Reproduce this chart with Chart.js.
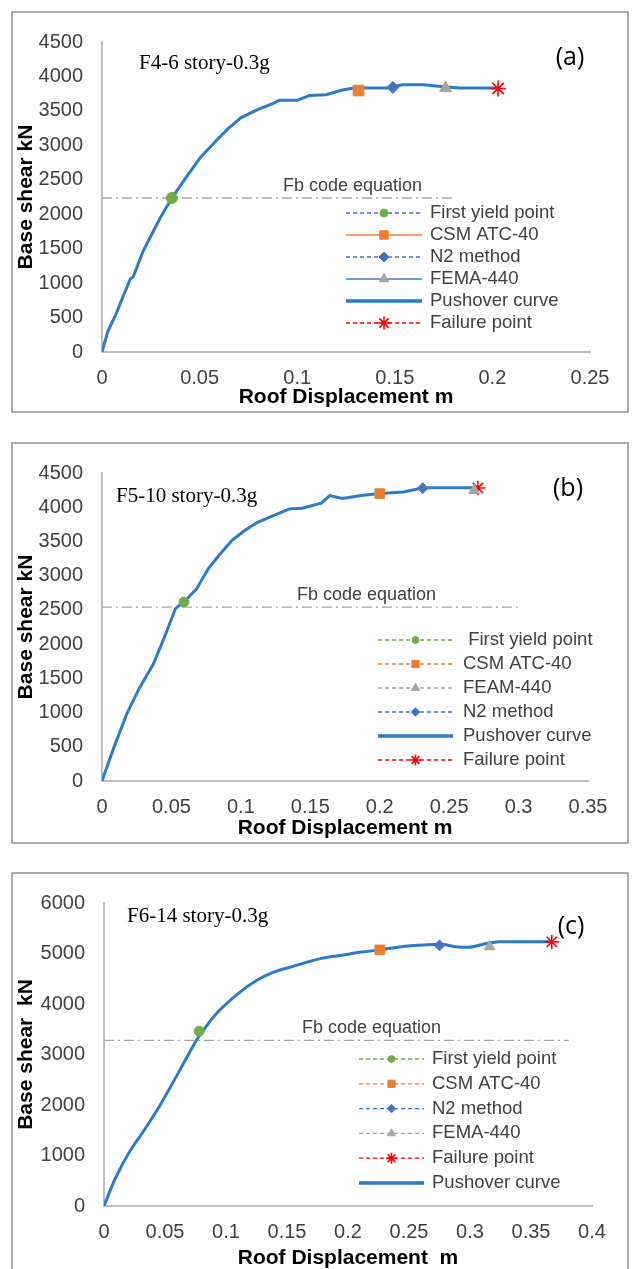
<!DOCTYPE html>
<html>
<head>
<meta charset="utf-8">
<script src="https://cdn.jsdelivr.net/npm/chart.js@4.4.1/dist/chart.umd.min.js"></script>
<style>
  body { margin: 0; width: 632px; height: 1269px; background: #fff; position: relative; overflow: hidden; }
  .box { position: absolute; left: 11px; width: 618px; height: 402px; border: 2px solid #ababab; box-sizing: border-box; }
  canvas { position: absolute; left: 0; }
  .sub { position: absolute; font-family: "Liberation Serif", "Times New Roman", serif; font-size: 21px; line-height: 24px; color: #000; white-space: pre; }
  .tag { position: absolute; font-family: "Open Sans", sans-serif; font-size: 25px; line-height: 30px; color: #000; transform: translate(-50%, -50%); }
</style>
</head>
<body>

<div class="box" style="top:11px"></div>
<div class="box" style="top:442px"></div>
<div class="box" style="top:872px; height:420px"></div>

<canvas id="chartA" width="632" height="402" style="top:11px"></canvas>
<canvas id="chartB" width="632" height="402" style="top:442px"></canvas>
<canvas id="chartC" width="632" height="402" style="top:872px"></canvas>

<div class="sub" style="left:139px; top:50px">F4-6 story-0.3g</div>
<div class="sub" style="left:116px; top:483px">F5-10 story-0.3g</div>
<div class="sub" style="left:127px; top:903px">F6-14 story-0.3g</div>
<div class="tag" style="left:570px; top:55px">(a)</div>
<div class="tag" style="left:568px; top:486px">(b)</div>
<div class="tag" style="left:571px; top:924px">(c)</div>

<script>
// ---------------- (a) F4-6 story-0.3g ----------------
const dispA  = [0, 0.003, 0.007, 0.011, 0.0145, 0.016, 0.021, 0.0295, 0.0358, 0.042, 0.0503, 0.0586, 0.0649, 0.0711,
                0.0794, 0.0877, 0.0909, 0.1002, 0.1064, 0.1148, 0.1231, 0.1293, 0.146, 0.154, 0.1646, 0.175, 0.1834, 0.2025];
const shearA = [0, 300, 540, 820, 1060, 1090, 1460, 1930, 2235, 2490, 2820, 3070, 3250, 3400,
                3515, 3610, 3655, 3655, 3725, 3734, 3804, 3832, 3832, 3878, 3878, 3850, 3832, 3832];
const pointNamesA = ["First yield point", "CSM ATC-40", "N2 method", "FEMA-440", "Failure point"];
const pointDispA  = [0.0358, 0.1314, 0.149, 0.176, 0.2029];
const pointShearA = [2235, 3795, 3841, 3830, 3825];
const legendOrderA = ["First yield point", "CSM ATC-40", "N2 method", "FEMA-440", "Pushover curve", "Failure point"];
const fbShearA = 2235;
const fbEndA = 0.18;
const xTicksA = [0, 0.05, 0.1, 0.15, 0.2, 0.25];
const yTicksA = [0, 500, 1000, 1500, 2000, 2500, 3000, 3500, 4000, 4500];

// ---------------- (b) F5-10 story-0.3g ----------------
const dispB  = [0, 0.0079, 0.018, 0.027, 0.037, 0.045, 0.053, 0.059, 0.068, 0.0766, 0.084, 0.094, 0.103, 0.112,
                0.123, 0.135, 0.144, 0.158, 0.164, 0.173, 0.188, 0.2, 0.217, 0.228, 0.234, 0.269];
const shearB = [0, 452, 987, 1360, 1709, 2104, 2523, 2616, 2803, 3105, 3291, 3524, 3664, 3780,
                3873, 3976, 3985, 4060, 4171, 4129, 4176, 4199, 4222, 4269, 4283, 4283];
const pointNamesB = [" First yield point", "CSM ATC-40", "FEAM-440", "N2 method", "Failure point"];
const pointDispB  = [0.059, 0.2, 0.268, 0.231, 0.2707];
const pointShearB = [2616, 4199, 4246, 4278, 4281];
const legendOrderB = [" First yield point", "CSM ATC-40", "FEAM-440", "N2 method", "Pushover curve", "Failure point"];
const fbShearB = 2540;
const fbEndB = 0.301;
const xTicksB = [0, 0.05, 0.1, 0.15, 0.2, 0.25, 0.3, 0.35];
const yTicksB = [0, 500, 1000, 1500, 2000, 2500, 3000, 3500, 4000, 4500];

// ---------------- (c) F6-14 story-0.3g ----------------
const dispC  = [0, 0.0093, 0.021, 0.0325, 0.0457, 0.059, 0.069, 0.0755, 0.079, 0.092, 0.112, 0.125, 0.138, 0.155,
                0.178, 0.195, 0.211, 0.226, 0.244, 0.261, 0.276, 0.288, 0.299, 0.311, 0.324, 0.337, 0.367];
const shearC = [0, 545, 1078, 1486, 1987, 2552, 2991, 3273, 3398, 3806, 4245, 4464, 4621, 4746,
                4903, 4966, 5028, 5072, 5135, 5166, 5185, 5135, 5122, 5185, 5235, 5235, 5235];
const pointNamesC = ["First yield point", "CSM ATC-40", "N2 method", "FEMA-440", "Failure point"];
const pointDispC  = [0.078, 0.226, 0.275, 0.316, 0.367];
const pointShearC = [3461, 5072, 5160, 5135, 5230];
const legendOrderC = ["First yield point", "CSM ATC-40", "N2 method", "FEMA-440", "Failure point", "Pushover curve"];
const fbShearC = 3280;
const fbEndC = 0.381;
const xTicksC = [0, 0.05, 0.1, 0.15, 0.2, 0.25, 0.3, 0.35, 0.4];
const yTicksC = [0, 1000, 2000, 3000, 4000, 5000, 6000];

// ---------------- styles ----------------
const CURVE = "#2b7bcb";
const TEXT = "#404040";
const SANS = '"Liberation Sans", Arial, sans-serif';

const DASH = [4, 3];

// which marker each legend name uses
function kindOf(name) {
    const n = name.trim();
    if (n.startsWith("First")) return "yield";
    if (n.startsWith("CSM")) return "csm";
    if (n.startsWith("N2")) return "n2";
    if (n.startsWith("FE")) return "fema";
    return "failure";
}

const LOOKS = {
    yield:   { style: "circle",   fill: "#70AD47", line: "#70AD47", r: 5.5, lr: 4 },
    csm:     { style: "rect",     fill: "#ED7D31", line: "#ED7D31", r: 7.5, lr: 6 },
    n2:      { style: "rectRot",  fill: "#4472C4", line: "#4472C4", r: 6,   lr: 5 },
    fema:    { style: "triangle", fill: "#A5A5A5", line: "#A5A5A5", r: 7,   lr: 5.5 },
    failure: { style: "star",     fill: "rgba(0,0,0,0)", line: "#FF0000", r: 8, lr: 6.5 }
};

// draws the "Fb code equation" label and the legend
const panelDecor = {

    id: "panelDecor",

    afterDatasetsDraw(chart, args, opts) {

        const ctx = chart.ctx;
        const ys = chart.scales.y;

        ctx.save();

        ctx.font = "18px " + SANS;
        ctx.fillStyle = TEXT;
        ctx.textBaseline = "middle";
        ctx.fillText("Fb code equation", opts.fbTextX, ys.getPixelForValue(opts.fbShear) - 12);

        const xm = (opts.lineX0 + opts.lineX1) / 2;

        opts.order.forEach((name, i) => {

            const ds = chart.data.datasets.find(d => d.label === name);
            const y = opts.legendY + i * opts.legendStep;

            ctx.beginPath();
            ctx.setLineDash(ds.legendDash);
            ctx.lineWidth = ds.legendWidth;
            ctx.strokeStyle = ds.legendColor;
            ctx.moveTo(opts.lineX0, y);
            ctx.lineTo(opts.lineX1, y);
            ctx.stroke();
            ctx.setLineDash([]);

            if (ds.showLine === false) {
                ctx.fillStyle = ds.backgroundColor;
                ctx.strokeStyle = ds.borderColor;
                ctx.lineWidth = ds.borderWidth;
                Chart.helpers.drawPoint(ctx, {
                    pointStyle: ds.pointStyle,
                    radius: ds.legendRadius * opts.markerScale,
                    rotation: 0,
                    borderWidth: ds.borderWidth
                }, xm, y);
            }

            ctx.fillStyle = TEXT;
            ctx.font = "18.5px " + SANS;
            ctx.fillText(name, opts.textX, y);

        });

        ctx.restore();

    }

};

function makePanel(id, p) {

    const datasets = [];

    p.names.forEach((name, i) => {
        const kind = kindOf(name);
        const lk = LOOKS[kind];
        const ll = p.legendLines[kind];
        datasets.push({
            label: name,
            data: [{ x: p.pDisp[i], y: p.pShear[i] }],
            showLine: false,
            pointStyle: lk.style,
            pointRadius: lk.r * p.markerScale,
            backgroundColor: lk.fill,
            borderColor: lk.line,
            borderWidth: kind === "failure" ? 1.6 : 1,
            legendRadius: lk.lr,
            legendColor: ll.color,
            legendDash: ll.dash,
            legendWidth: 1.3,
            order: 0
        });
    });

    datasets.push({
        label: "Pushover curve",
        data: p.disp.map((x, i) => ({ x: x, y: p.shear[i] })),
        showLine: true,
        borderColor: CURVE,
        borderWidth: 3,
        pointRadius: 0,
        tension: p.tension,
        cubicInterpolationMode: p.tension ? "monotone" : "default",
        legendColor: CURVE,
        legendDash: [],
        legendWidth: 3.5,
        order: 1
    });

    datasets.push({
        label: "Fb",
        data: [{ x: 0, y: p.fbShear }, { x: p.fbEnd, y: p.fbShear }],
        showLine: true,
        borderColor: "#a6a6a6",
        borderWidth: 1.4,
        borderDash: [10, 4, 2, 4],
        pointRadius: 0,
        order: 2
    });

    const area = p.area;

    return new Chart(document.getElementById(id), {

        type: "scatter",

        data: { datasets: datasets },

        options: {

            responsive: false,
            animation: false,
            events: [],

            layout: {
                padding: { left: 0, right: 632 - area.right, top: area.top, bottom: 0 }
            },

            plugins: {
                legend: { display: false },
                tooltip: { enabled: false },
                panelDecor: p.decor
            },

            scales: {

                x: {
                    type: "linear",
                    min: 0,
                    max: p.xTicks[p.xTicks.length - 1],
                    afterBuildTicks: s => { s.ticks = p.xTicks.map(v => ({ value: v })); },
                    afterFit: s => { s.height = 402 - area.bottom; },
                    grid: { display: false, drawTicks: false },
                    border: { color: "#c0c0c0", width: 2 },
                    ticks: {
                        padding: 14,
                        autoSkip: false,
                        maxRotation: 0,
                        color: TEXT,
                        font: { family: SANS, size: 20 },
                        callback: v => String(v)
                    },
                    title: {
                        display: true,
                        text: p.xTitle,
                        color: "#000",
                        font: { family: SANS, size: 21, weight: "bold" },
                        padding: { top: 0, bottom: 3 }
                    }
                },

                y: {
                    type: "linear",
                    min: 0,
                    max: p.yTicks[p.yTicks.length - 1],
                    afterBuildTicks: s => { s.ticks = p.yTicks.map(v => ({ value: v })); },
                    afterFit: s => { s.width = area.left; },
                    grid: { display: false, drawTicks: false },
                    border: { color: "#c0c0c0", width: 2 },
                    ticks: {
                        padding: 19,
                        autoSkip: false,
                        color: TEXT,
                        font: { family: SANS, size: 20 },
                        callback: v => String(v)
                    },
                    title: {
                        display: true,
                        text: p.yTitle,
                        color: "#000",
                        font: { family: SANS, size: 21, weight: "bold" },
                        padding: { top: 14, bottom: 0 }
                    }
                }

            }

        },

        plugins: [panelDecor]

    });

}

const dashBlue = { color: "#4472C4", dash: DASH };
const dashRed = { color: "#FF0000", dash: DASH };

makePanel("chartA", {
    disp: dispA, shear: shearA,
    names: pointNamesA, pDisp: pointDispA, pShear: pointShearA,
    fbShear: fbShearA, fbEnd: fbEndA,
    xTicks: xTicksA, yTicks: yTicksA,
    tension: 0, markerScale: 1,
    xTitle: "Roof Displacement m", yTitle: "Base shear kN",
    area: { left: 102, right: 590, top: 18, bottom: 341 },
    legendLines: {
        yield: dashBlue, csm: { color: "#ED7D31", dash: [] }, n2: dashBlue,
        fema: { color: "#4472C4", dash: [] }, failure: dashRed
    },
    decor: { order: legendOrderA, fbShear: fbShearA, fbTextX: 283, lineX0: 346, lineX1: 422, textX: 430, legendY: 202, legendStep: 22, markerScale: 1 }
});

makePanel("chartB", {
    disp: dispB, shear: shearB,
    names: pointNamesB, pDisp: pointDispB, pShear: pointShearB,
    fbShear: fbShearB, fbEnd: fbEndB,
    xTicks: xTicksB, yTicks: yTicksB,
    tension: 0, markerScale: 0.9,
    xTitle: "Roof Displacement m", yTitle: "Base shear kN",
    area: { left: 102, right: 588, top: 16, bottom: 339 },
    legendLines: {
        yield: { color: "#70AD47", dash: DASH }, csm: { color: "#ED7D31", dash: DASH }, n2: dashBlue,
        fema: { color: "#A5A5A5", dash: DASH }, failure: dashRed
    },
    decor: { order: legendOrderB, fbShear: fbShearB, fbTextX: 297, lineX0: 378, lineX1: 453, textX: 463, legendY: 198, legendStep: 24, markerScale: 0.85 }
});

makePanel("chartC", {
    disp: dispC, shear: shearC,
    names: pointNamesC, pDisp: pointDispC, pShear: pointShearC,
    fbShear: fbShearC, fbEnd: fbEndC,
    xTicks: xTicksC, yTicks: yTicksC,
    tension: 0.4, markerScale: 0.9,
    xTitle: "Roof Displacement  m", yTitle: "Base shear  kN",
    area: { left: 104, right: 592, top: 15, bottom: 334 },
    legendLines: {
        yield: { color: "#70AD47", dash: DASH }, csm: { color: "#ED7D31", dash: DASH }, n2: dashBlue,
        fema: { color: "#A5A5A5", dash: DASH }, failure: dashRed
    },
    decor: { order: legendOrderC, fbShear: fbShearC, fbTextX: 302, lineX0: 359, lineX1: 424, textX: 432, legendY: 187, legendStep: 24.8, markerScale: 0.85 }
});
</script>
</body>
</html>
